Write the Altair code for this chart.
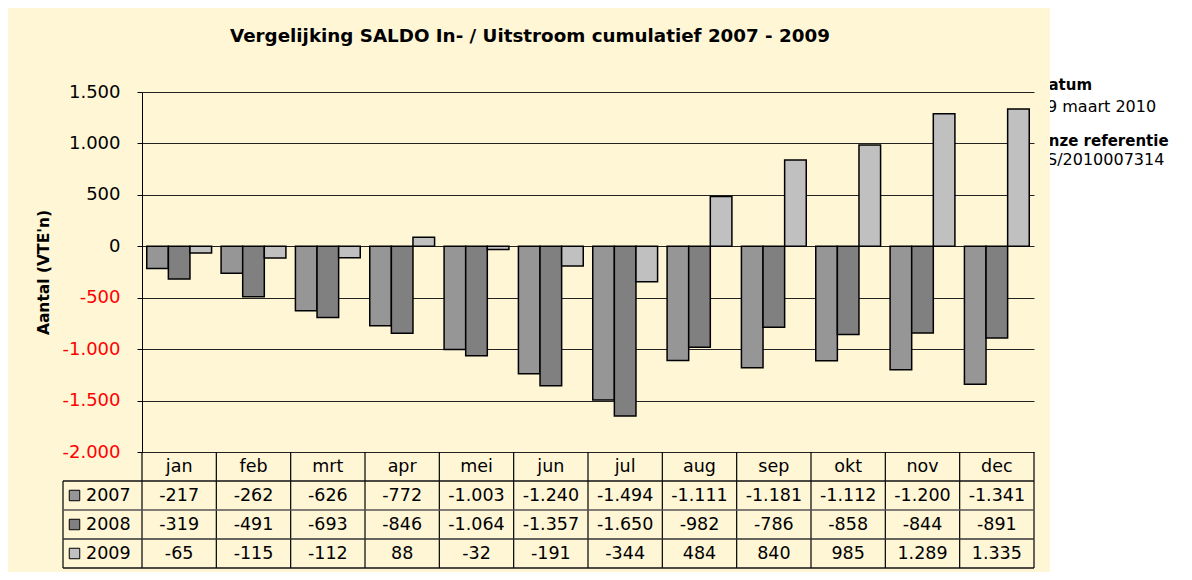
import altair as alt
import pandas as pd

months = ["jan", "feb", "mrt", "apr", "mei", "jun", "jul", "aug", "sep", "okt", "nov", "dec"]
years = ["2007", "2008", "2009"]
v2007 = [-217, -262, -626, -772, -1003, -1240, -1494, -1111, -1181, -1112, -1200, -1341]
v2008 = [-319, -491, -693, -846, -1064, -1357, -1650, -982, -786, -858, -844, -891]
v2009 = [-65, -115, -112, 88, -32, -191, -344, 484, 840, 985, 1289, 1335]
colors = ["#969696", "#808080", "#C0C0C0"]
y_ticks = [-2000, -1500, -1000, -500, 0, 500, 1000, 1500]
title_text = "Vergelijking SALDO In- / Uitstroom cumulatief 2007 - 2009"
y_title = "Aantal (VTE'n)"
side_bold = ["Datum", "Onze referentie"]
side_plain = ["9 maart 2010", "S/2010007314"]

FONT = "DejaVu Sans"
CREAM = "#FFF6D6"
W, H = 892, 360
PAD_R = 150


def nl(v):
    s = f"{abs(v):,}".replace(",", ".")
    return ("-" if v < 0 else "") + s


rows = []
for yi, (yr, vals) in enumerate(zip(years, [v2007, v2008, v2009])):
    for m, v in zip(months, vals):
        rows.append({"month": m, "year": yr, "value": v, "lab": nl(v), "ri": yi + 1})
df = pd.DataFrame(rows)
hdr = pd.DataFrame({"month": months, "ri": [0] * len(months)})
yrs = pd.DataFrame({"year": years, "ri": [1, 2, 3]})

xs = alt.Scale(domain=months, paddingInner=0, paddingOuter=0)
cs = alt.Scale(domain=years, range=colors)
rs = alt.Scale(domain=[-0.5, 3.5], range=[360, 476])

# white area to the right of the cream chart panel
white = alt.Chart(pd.DataFrame({"a": [0]})).mark_rect(color="white").encode(
    x=alt.value(908), x2=alt.value(W + PAD_R), y=alt.value(-84), y2=alt.value(H + 120)
)
side_b = alt.Chart(pd.DataFrame({"t": side_bold, "k": [0, 1]})).mark_text(
    font=FONT, fontSize=15, fontWeight="bold", align="left", baseline="middle", color="black"
).encode(
    x=alt.value(894),
    y=alt.Y("k:Q", scale=alt.Scale(domain=[0, 1], range=[-7.5, 48.5]), axis=None),
    text="t:N",
)
side_p = alt.Chart(pd.DataFrame({"t": side_plain, "k": [0, 1]})).mark_text(
    font=FONT, fontSize=16, align="left", baseline="middle", color="black"
).encode(
    x=alt.value(905),
    y=alt.Y("k:Q", scale=alt.Scale(domain=[0, 1], range=[14.5, 68]), axis=None),
    text="t:N",
)
strip = alt.Chart(pd.DataFrame({"a": [0]})).mark_rect(color=CREAM).encode(
    x=alt.value(893), x2=alt.value(908), y=alt.value(-30), y2=alt.value(80)
)

title = alt.Chart(pd.DataFrame({"t": [title_text]})).mark_text(
    font=FONT, fontSize=18.3, fontWeight="bold", align="center", baseline="middle", color="black"
).encode(x=alt.value(388), y=alt.value(-55), text="t:N")

bars = alt.Chart(df).mark_bar(stroke="black", strokeWidth=1.5).encode(
    x=alt.X("month:N", scale=xs, sort=months, axis=None),
    xOffset=alt.XOffset("year:N", scale=alt.Scale(domain=years, paddingInner=0, paddingOuter=0.22)),
    y=alt.Y(
        "value:Q",
        scale=alt.Scale(domain=[-2000, 1500], nice=False, zero=False),
        axis=alt.Axis(
            values=y_ticks,
            title=y_title,
            titleFont=FONT,
            titleFontSize=15.5,
            titleFontWeight="bold",
            titleColor="black",
            titlePadding=10,
            labelFont=FONT,
            labelFontSize=18,
            labelColor=alt.ExprRef(expr="datum.value < 0 ? '#FF0000' : '#000000'"),
            labelExpr="(datum.value < 0 ? '-' : '') + replace(format(abs(datum.value), ','), ',', '.')",
            labelPadding=17,
            tickSize=5,
            tickColor="black",
            domainColor="black",
            grid=True,
            gridColor="#222222",
            gridWidth=1,
        ),
    ),
    color=alt.Color("year:N", scale=cs, legend=None),
)

# table structure
vlines = alt.Chart(pd.DataFrame({"month": months, "a": -0.5, "b": 3.5})).mark_rule(
    color="black", strokeWidth=1.2
).encode(
    x=alt.X("month:N", scale=xs, sort=months, bandPosition=0, axis=None),
    y=alt.Y("a:Q", scale=rs, axis=None),
    y2="b:Q",
)
vright = alt.Chart(pd.DataFrame({"month": ["dec"], "a": -0.5, "b": 3.5})).mark_rule(
    color="black", strokeWidth=1.2
).encode(
    x=alt.X("month:N", scale=xs, sort=months, bandPosition=1, axis=None),
    y=alt.Y("a:Q", scale=rs, axis=None),
    y2="b:Q",
)
vleft = alt.Chart(pd.DataFrame({"a": [0.5], "b": [3.5]})).mark_rule(
    color="black", strokeWidth=1.2
).encode(
    x=alt.value(-79),
    y=alt.Y("a:Q", scale=rs, axis=None),
    y2="b:Q",
)
hlines = alt.Chart(pd.DataFrame({"a": [0.5, 1.5, 2.5, 3.5], "c": ["#111111", "#555555", "#333333", "#111111"]})).mark_rule(
    strokeWidth=1.3
).encode(
    x=alt.value(-79),
    x2=alt.value(W),
    y=alt.Y("a:Q", scale=rs, axis=None),
    color=alt.Color("c:N", scale=None),
)

month_lab = alt.Chart(hdr).mark_text(font=FONT, fontSize=17.5, color="black", baseline="middle").encode(
    x=alt.X("month:N", scale=xs, sort=months, axis=None),
    y=alt.Y("ri:Q", scale=rs, axis=None),
    text="month:N",
)
vals = alt.Chart(df).mark_text(font=FONT, fontSize=17.5, color="black", baseline="middle").encode(
    x=alt.X("month:N", scale=xs, sort=months, axis=None),
    y=alt.Y("ri:Q", scale=rs, axis=None),
    text="lab:N",
)
keys = alt.Chart(yrs).mark_square(size=110, stroke="black", strokeWidth=1, opacity=1).encode(
    x=alt.value(-67.5),
    y=alt.Y("ri:Q", scale=rs, axis=None),
    color=alt.Color("year:N", scale=cs, legend=None),
)
key_lab = alt.Chart(yrs).mark_text(font=FONT, fontSize=17.5, color="black", align="left", baseline="middle").encode(
    x=alt.value(-56),
    y=alt.Y("ri:Q", scale=rs, axis=None),
    text="year:N",
)

chart = (
    alt.layer(white, side_b, side_p, strip, title, bars, vlines, vright, vleft, hlines, month_lab, vals, keys, key_lab)
    .resolve_scale(y="independent")
    .properties(
        width=W,
        height=H,
        padding={"left": 134, "top": 84, "right": PAD_R, "bottom": 120},
        autosize=alt.AutoSizeParams(type="none"),
        background=CREAM,
    )
    .configure_view(stroke=None)
)

chart.save("out.html", embed_options={"renderer": "svg", "actions": False})
